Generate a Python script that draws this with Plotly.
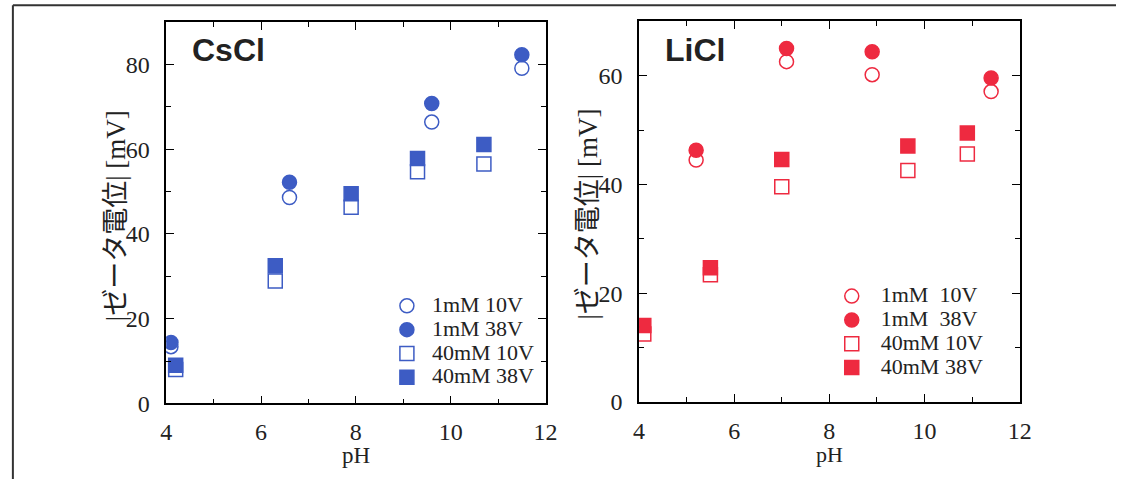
import plotly.graph_objects as go

# ---------------- data ----------------
cs_c10_x = [4.1, 6.6, 9.6, 11.5]
cs_c10_y = [13.4, 48.6, 66.4, 79.1]
cs_c38_x = [4.1, 6.6, 9.6, 11.5]
cs_c38_y = [14.4, 52.2, 70.8, 82.3]
cs_s10_x = [4.2, 6.3, 7.9, 9.3, 10.7]
cs_s10_y = [8.0, 28.9, 46.3, 54.7, 56.5]
cs_s38_x = [4.2, 6.3, 7.9, 9.3, 10.7]
cs_s38_y = [9.0, 32.5, 49.5, 57.8, 61.1]

li_c10_x = [5.2, 7.1, 8.9, 11.4]
li_c10_y = [44.5, 62.6, 60.2, 57.1]
li_c38_x = [5.2, 7.1, 8.9, 11.4]
li_c38_y = [46.3, 65.0, 64.4, 59.6]
li_s10_x = [4.1, 5.5, 7.0, 9.65, 10.9]
li_s10_y = [12.5, 23.4, 39.6, 42.6, 45.6]
li_s38_x = [4.1, 5.5, 7.0, 9.65, 10.9]
li_s38_y = [14.1, 24.7, 44.6, 47.1, 49.5]

cs_names = ["1mM 10V", "1mM 38V", "40mM 10V", "40mM 38V"]
li_names = ["1mM\u00a0\u00a010V", "1mM\u00a0\u00a038V", "40mM 10V", "40mM 38V"]

x_ticks = [4, 6, 8, 10, 12]
y_title = "|ゼータ電位| [mV]"
x_title = "pH"

BLUE = "#3d5cc4"
RED = "#ee2a40"
SERIF = '"Liberation Serif", "Noto Sans CJK JP", serif'
SANS = '"Liberation Sans", Arial, sans-serif'
W, H = 1128, 479


def lbl(t):
    return '<span style="font-size:22px">' + t + '</span>'


fig = go.Figure()


def add_set(xs_ys, names, color, xa, ya, legend):
    symbols = ["circle", "circle", "square", "square"]
    filled = [False, True, False, True]
    for (x, y), nm, sym, fl in zip(xs_ys, names, symbols, filled):
        fig.add_trace(go.Scatter(
            x=x, y=y, mode="markers", name=lbl(nm), xaxis=xa, yaxis=ya,
            legend=legend,
            marker=dict(symbol=sym, size=14,
                        color=color if fl else "white",
                        line=dict(color=color, width=1.5)),
        ))


add_set([(cs_c10_x, cs_c10_y), (cs_c38_x, cs_c38_y),
         (cs_s10_x, cs_s10_y), (cs_s38_x, cs_s38_y)],
        cs_names, BLUE, "x", "y", "legend")
add_set([(li_c10_x, li_c10_y), (li_c38_x, li_c38_y),
         (li_s10_x, li_s10_y), (li_s38_x, li_s38_y)],
        li_names, RED, "x2", "y2", "legend2")

axis_common = dict(
    showline=True, linecolor="black", linewidth=1.5, mirror="ticks",
    ticks="inside", ticklen=8, tickwidth=1.2, tickcolor="black",
    showgrid=False, zeroline=False,
    tickfont=dict(family=SERIF, size=24, color="#222"),
)

fig.update_layout(
    width=W, height=H, autosize=False,
    margin=dict(l=0, r=0, t=0, b=0),
    paper_bgcolor="white", plot_bgcolor="white",
    xaxis=dict(domain=[162.8 / W, 548.3 / W], range=[4, 12], tickvals=x_ticks,
               minor=dict(ticks="inside", dtick=1, ticklen=5, tickcolor="black"),
               anchor="y", ticklabelstandoff=6, **axis_common),
    yaxis=dict(domain=[1 - 414.7 / H, 1 - 22.7 / H], range=[0, 90], dtick=20,
               minor=dict(ticks="inside", dtick=10, ticklen=5, tickcolor="black"),
               anchor="x", ticklabelstandoff=10, **axis_common),
    xaxis2=dict(domain=[643.3 / W, 1030.1 / W], range=[4, 12], tickvals=x_ticks,
                minor=dict(ticks="inside", dtick=1, ticklen=5, tickcolor="black"),
                anchor="y2", ticklabelstandoff=6, **axis_common),
    yaxis2=dict(domain=[1 - 413.3 / H, 1 - 22 / H], range=[0, 70], dtick=20,
                minor=dict(ticks="inside", dtick=10, ticklen=5, tickcolor="black"),
                anchor="x2", ticklabelstandoff=10, **axis_common),
    legend=dict(x=382 / W, y=1 - 297 / H, xanchor="left", yanchor="top",
                bgcolor="rgba(0,0,0,0)", itemwidth=40, itemsizing="trace",
                font=dict(family=SERIF, size=16, color="#222")),
    legend2=dict(x=830 / W, y=1 - 287 / H, xanchor="left", yanchor="top",
                 bgcolor="rgba(0,0,0,0)", itemwidth=48, itemsizing="trace",
                 font=dict(family=SERIF, size=16, color="#222")),
    showlegend=True,
)

annos = [
    dict(text="<b>CsCl</b>", x=187 / W, y=1 - 51.5 / H, xanchor="left", yanchor="middle",
         font=dict(family=SANS, size=32, color="#222")),
    dict(text="<b>LiCl</b>", x=668 / W, y=1 - 51 / H, xanchor="left", yanchor="middle",
         font=dict(family=SANS, size=32, color="#222")),
    dict(text=y_title, x=112 / W, y=1 - 222 / H, textangle=-90, xanchor="center", yanchor="middle",
         font=dict(family=SERIF, size=27, color="#222")),
    dict(text=y_title, x=591 / W, y=1 - 220 / H, textangle=-90, xanchor="center", yanchor="middle",
         font=dict(family=SERIF, size=27, color="#222")),
    dict(text=x_title, x=355.5 / W, y=1 - 468 / H, xanchor="center", yanchor="middle",
         font=dict(family=SERIF, size=23, color="#222")),
    dict(text=x_title, x=836.7 / W, y=1 - 467 / H, xanchor="center", yanchor="middle",
         font=dict(family=SERIF, size=22, color="#222")),
]
for a in annos:
    a.update(xref="paper", yref="paper", showarrow=False)
fig.update_layout(annotations=annos)

# outer frame (top and left edges)
fig.add_shape(type="line", xref="paper", yref="paper", x0=7 / W, x1=1, y0=1 - 5.5 / H, y1=1 - 5.5 / H,
              line=dict(color="#333", width=2))
fig.add_shape(type="line", xref="paper", yref="paper", x0=7 / W, x1=7 / W, y0=-0.1, y1=1 - 5.5 / H,
              line=dict(color="#333", width=2))

fig.write_html("out.html")
